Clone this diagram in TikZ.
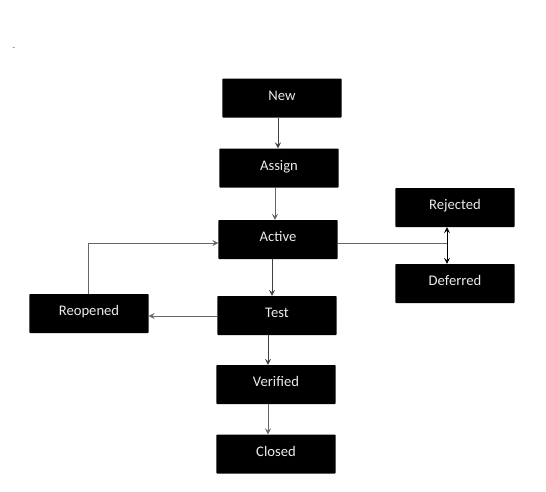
\documentclass[tikz,border=0pt]{standalone}
\usepackage{fontspec}
\setmainfont{Carlito}
\usetikzlibrary{calc, arrows.meta}
\begin{document}
\begin{tikzpicture}[x=0.03cm, y=-0.03cm,
    state/.style={fill=black, text=white!92!black, rounded corners=0.5pt, minimum width=3.57cm, minimum height=1.17cm, inner sep=0pt, text height=8pt, text depth=4.5pt, font=\fontsize{12.5}{15}\selectfont},
    arrow/.style={-{Stealth[length=5pt, width=5pt, inset=2pt]}, draw=black!75},
    line/.style={draw=black!60}
]
    \useasboundingbox (0,0) rectangle (546,491);
    \node[font=\scriptsize, text=black!70] (mark) at (14,49) {-};

    % Main flow
    \node[state] (new) at (282,98) {New};
    \node[state] (assign) at (279,168) {Assign};
    \node[state] (active) at (278,239.5) {Active};
    \node[state] (test) at (277,315.5) {Test};
    \node[state] (verified) at (276,384.5) {Verified};
    \node[state] (closed) at (276,454) {Closed};

    % Side states
    \node[state] (rejected) at (455,207.5) {Rejected};
    \node[state] (deferred) at (455,283.5) {Deferred};
    \node[state] (reopened) at (89,313.5) {Reopened};

    % Vertical arrows
    \draw[arrow] ($(new.south)+(-4,0)$) -- ($(assign.north)+(-1,0)$);
    \draw[arrow, line] ($(assign.south)+(-4,0)$) -- ($(active.north)+(-3,0)$);
    \draw[arrow] ($(active.south)+(-6,0)$) -- ($(test.north)+(-5,0)$);
    \draw[arrow] ($(test.south)+(-9,0)$) -- ($(verified.north)+(-8,0)$);
    \draw[arrow, line] ($(verified.south)+(-8,0)$) -- ($(closed.north)+(-8,0)$);

    % Reopen loop
    \draw[arrow, line] (test.west |- 0,316) -- (reopened.east |- 0,316);
    \draw[arrow, line] ($(reopened.north)+(-1,0)$) |- ($(active.west)+(0,3.5)$);

    % Rejected / deferred
    \coordinate (fork) at (447,243);
    \draw[line] ($(active.east)+(0,3.5)$) -- (fork);
    \draw[{Stealth[length=5pt, width=5pt, inset=2pt]}-{Stealth[length=5pt, width=5pt, inset=2pt]}, thick] ($(rejected.south)+(-8,0)$) -- ($(deferred.north)+(-8,0)$);
\end{tikzpicture}
\end{document}
